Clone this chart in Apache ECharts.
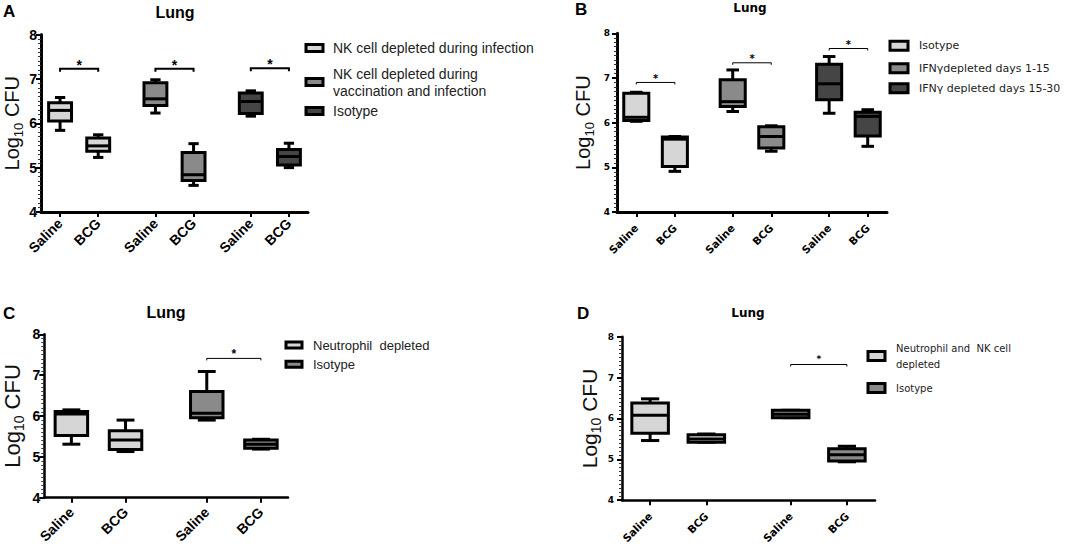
<!DOCTYPE html>
<html>
<head>
<meta charset="utf-8">
<script src="https://cdn.jsdelivr.net/npm/echarts/dist/echarts.min.js"></script>
<style>html,body{margin:0;padding:0;background:#fff}#c{width:1084px;height:546px}</style>
</head>
<body>
<div id="c"></div>
<script>
// ================= DATA =================
const yTicks = [4, 5, 6, 7, 8];
const yName = '{a|Log}{s|10}{a| CFU}';

// Panel A
const catsA = ['', 'Saline', '', 'BCG', '', '', 'Saline', '', 'BCG', '', '', 'Saline', '', 'BCG', ''];
const groupsA = ['NK cell depleted during infection', 'NK cell depleted during\nvaccination and infection', 'Isotype'];
// each box: [min, Q1, median, Q3, max]
const salineA = [[5.84, 6.05, 6.29, 6.46, 6.58], [6.23, 6.40, 6.55, 6.91, 6.98], [6.16, 6.22, 6.49, 6.68, 6.73]];
const bcgA = [[5.23, 5.37, 5.49, 5.67, 5.74], [4.60, 4.71, 4.84, 5.34, 5.54], [5.00, 5.06, 5.25, 5.41, 5.55]];
const sigA = [7.23, 7.23, 7.24];

// Panel B
const catsB = ['', 'Saline', '', 'BCG', '', '', 'Saline', '', 'BCG', '', '', 'Saline', '', 'BCG', ''];
const groupsB = ['Isotype', 'IFNγdepleted days 1-15', 'IFNγ depleted days 15-30'];
const salineB = [[6.03, 6.05, 6.12, 6.66, 6.68], [6.25, 6.36, 6.47, 6.96, 7.18], [6.21, 6.51, 6.87, 7.31, 7.48]];
const bcgB = [[4.91, 5.02, 5.63, 5.68, 5.69], [5.36, 5.43, 5.69, 5.91, 5.93], [5.47, 5.70, 6.14, 6.23, 6.29]];
const sigB = [6.90, 7.34, 7.66];

// Panel C
const catsC = ['', 'Saline', '', 'BCG', '', '', 'Saline', '', 'BCG', ''];
const groupsC = ['Neutrophil  depleted', 'Isotype'];
const salineC = [[5.31, 5.52, 6.05, 6.11, 6.15], [5.90, 5.96, 6.07, 6.60, 7.09]];
const bcgC = [[5.13, 5.18, 5.41, 5.64, 5.90], [5.19, 5.21, 5.31, 5.41, 5.43]];
const sigC = [null, 7.41];

// Panel D
const catsD = ['', 'Saline', '', 'BCG', '', '', 'Saline', '', 'BCG', ''];
const groupsD = ['Neutrophil and  NK cell\ndepleted', 'Isotype'];
const salineD = [[5.46, 5.64, 6.08, 6.38, 6.48], [6.02, 6.02, 6.10, 6.20, 6.20]];
const bcgD = [[5.42, 5.42, 5.50, 5.60, 5.62], [4.94, 4.96, 5.11, 5.26, 5.32]];
const sigD = [null, 7.32];

// ================= STYLE / LAYOUT =================
const LIGHT = '#d6d6d6', MID = '#8a8a8a', DARK = '#454545';
const ARIAL = 'Liberation Sans', DJ = 'DejaVu Sans';

const panels = [
  { cats: catsA, groups: groupsA, saline: salineA, bcg: bcgA, sig: sigA, fills: [LIGHT, MID, DARK],
    grid: { left: 41, top: 34.5, width: 267, height: 177.5 },
    ff: ARIAL, tickFs: 14, xFs: 14, xMargin: 9, yMargin: 4, nameFs: 20, nameGap: 16,
    boxRatio: 1.2, capRatio: 0.45, lineW: 3, axisW: 3,
    sigW: 2, sigTick: 3, starFs: 14, starGap: 4,
    legend: { left: 304.5, centers: [48, 82, 111], iw: 17, ih: 7, fs: 14, lh: 17, ff: ARIAL, tp: 5 } },
  { cats: catsB, groups: groupsB, saline: salineB, bcg: bcgB, sig: sigB, fills: [LIGHT, MID, DARK],
    grid: { left: 617, top: 33.3, width: 270, height: 178.7 },
    ff: DJ, tickFs: 9, xFs: 10.5, xMargin: 14, yMargin: 7, nameFs: 20, nameGap: 21,
    boxRatio: 1.3, capRatio: 0.5, lineW: 3, axisW: 3,
    sigW: 1, sigTick: 2, starFs: 10, starGap: 4,
    legend: { left: 888.5, centers: [45.7, 68.3, 88.3], iw: 18, ih: 9, fs: 11, lh: 14, ff: DJ, tp: 6 } },
  { cats: catsC, groups: groupsC, saline: salineC, bcg: bcgC, sig: sigC, fills: [LIGHT, MID],
    grid: { left: 43, top: 334.3, width: 245, height: 163.4 },
    ff: ARIAL, tickFs: 14, xFs: 14, xMargin: 12, yMargin: 4, nameFs: 22, nameGap: 18,
    boxRatio: 1.2, capRatio: 0.55, lineW: 3, axisW: 2.5,
    sigW: 1, sigTick: 2, starFs: 12, starGap: 4,
    legend: { left: 284.5, centers: [345, 364.3], iw: 16, ih: 6, fs: 13, lh: 16, ff: ARIAL, tp: 6 } },
  { cats: catsD, groups: groupsD, saline: salineD, bcg: bcgD, sig: sigD, fills: [LIGHT, MID],
    grid: { left: 622, top: 336.7, width: 253, height: 166.6 },
    ff: DJ, tickFs: 9, xFs: 10.5, xMargin: 14, yMargin: 8, nameFs: 21, nameGap: 19,
    boxRatio: 1.3, capRatio: 0.5, lineW: 3, axisW: 2.5,
    sigW: 1, sigTick: 2, starFs: 9, starGap: 5,
    legend: { left: 866.5, centers: [356, 388], iw: 17, ih: 9, fs: 10, lh: 16, ff: DJ, tp: 6 } }
];

const headers = [
  { t: 'A', x: 3, y: 11, fs: 17, ff: ARIAL, align: 'left' },
  { t: 'Lung', x: 175, y: 12, fs: 16, ff: ARIAL, align: 'center' },
  { t: 'B', x: 575, y: 9, fs: 17, ff: ARIAL, align: 'left' },
  { t: 'Lung', x: 750, y: 8, fs: 12, ff: DJ, align: 'center' },
  { t: 'C', x: 3, y: 313, fs: 17, ff: ARIAL, align: 'left' },
  { t: 'Lung', x: 166, y: 312, fs: 16, ff: ARIAL, align: 'center' },
  { t: 'D', x: 577, y: 313, fs: 17, ff: ARIAL, align: 'left' },
  { t: 'Lung', x: 748, y: 313, fs: 12, ff: DJ, align: 'center' }
];

// ================= BUILD =================
function nthIndex(cats, label, n) {
  let c = -1;
  for (let i = 0; i < cats.length; i++) {
    if (cats[i] === label) { c++; if (c === n) return i; }
  }
  return -1;
}

function boxRenderer(p) {
  return function (params, api) {
    const x = api.value(0);
    const c = v => api.coord([x, v]);
    const pMin = c(api.value(1)), pQ1 = c(api.value(2)), pMed = c(api.value(3)),
          pQ3 = c(api.value(4)), pMax = c(api.value(5));
    const band = api.size([1, 0])[0];
    const bw = band * p.boxRatio, cw = bw * p.capRatio;
    const cx = pMed[0];
    const st = { stroke: '#000', lineWidth: p.lineW };
    return {
      type: 'group',
      children: [
        { type: 'line', shape: { x1: cx, y1: pMax[1], x2: cx, y2: pQ3[1] }, style: st },
        { type: 'line', shape: { x1: cx, y1: pQ1[1], x2: cx, y2: pMin[1] }, style: st },
        { type: 'line', shape: { x1: cx - cw / 2, y1: pMax[1], x2: cx + cw / 2, y2: pMax[1] }, style: st },
        { type: 'line', shape: { x1: cx - cw / 2, y1: pMin[1], x2: cx + cw / 2, y2: pMin[1] }, style: st },
        { type: 'rect', shape: { x: cx - bw / 2, y: pQ3[1], width: bw, height: pQ1[1] - pQ3[1] },
          style: { fill: api.visual('color'), stroke: '#000', lineWidth: p.lineW } },
        { type: 'line', shape: { x1: cx - bw / 2, y1: pMed[1], x2: cx + bw / 2, y2: pMed[1] }, style: st }
      ]
    };
  };
}

function sigRenderer(p) {
  return function (params, api) {
    const a = api.coord([api.value(0), api.value(2)]);
    const b = api.coord([api.value(1), api.value(2)]);
    return {
      type: 'group',
      children: [
        { type: 'polyline', shape: { points: [[a[0], a[1] + p.sigTick], [a[0], a[1]], [b[0], b[1]], [b[0], b[1] + p.sigTick]] },
          style: { stroke: '#000', lineWidth: p.sigW, fill: 'none' } },
        { type: 'text', style: { text: '*', x: (a[0] + b[0]) / 2, y: a[1] - p.starGap, align: 'center', verticalAlign: 'middle',
          fontSize: p.starFs, fontWeight: 'bold', fontFamily: p.ff, fill: '#000' } }
      ]
    };
  };
}

const grids = [], xAxes = [], yAxes = [], series = [], legends = [];

panels.forEach((p, i) => {
  grids.push(Object.assign({ containLabel: false }, p.grid));
  xAxes.push({
    type: 'category', gridIndex: i, data: p.cats, boundaryGap: false,
    axisLine: { onZero: false, lineStyle: { color: '#000', width: p.axisW } },
    axisTick: { show: true, interval: (idx, v) => v !== '', length: 5, lineStyle: { color: '#000', width: 2 } },
    axisLabel: { interval: 0, rotate: 45, margin: p.xMargin, fontSize: p.xFs, fontWeight: 'bold', fontFamily: p.ff, color: '#000' },
    splitLine: { show: false }
  });
  yAxes.push({
    type: 'value', gridIndex: i, min: yTicks[0], max: yTicks[yTicks.length - 1], interval: yTicks[1] - yTicks[0],
    axisLine: { show: true, lineStyle: { color: '#000', width: p.axisW } },
    axisTick: { show: true, length: 5, lineStyle: { color: '#000', width: 2 } },
    minorTick: { show: true, splitNumber: 10, length: 3, lineStyle: { color: '#333', width: 1 } },
    splitLine: { show: false },
    axisLabel: { margin: p.yMargin, fontSize: p.tickFs, fontWeight: 'bold', fontFamily: p.ff, color: '#000' },
    name: yName, nameLocation: 'middle', nameGap: p.nameGap,
    nameTextStyle: {
      rich: {
        a: { fontSize: p.nameFs, fontFamily: ARIAL, color: '#111', lineHeight: p.nameFs * 1.3, verticalAlign: 'middle' },
        s: { fontSize: Math.round(p.nameFs * 0.65), fontFamily: ARIAL, color: '#111', lineHeight: Math.round(p.nameFs * 0.65), verticalAlign: 'bottom' }
      }
    }
  });

  p.groups.forEach((g, k) => {
    const si = nthIndex(p.cats, 'Saline', k), bi = nthIndex(p.cats, 'BCG', k);
    series.push({
      type: 'custom', name: g, xAxisIndex: i, yAxisIndex: i,
      itemStyle: { color: p.fills[k] },
      encode: { x: 0, y: [1, 2, 3, 4, 5] },
      data: [[si].concat(p.saline[k]), [bi].concat(p.bcg[k])],
      renderItem: boxRenderer(p),
      silent: true
    });
    const L = p.legend;
    const lines = g.split('\n').length;
    const h = Math.max(L.lh * lines, L.ih);
    legends.push({
      show: true, orient: 'vertical', left: L.left, top: L.centers[k] - h / 2, padding: 0, itemGap: 0,
      itemWidth: L.iw, itemHeight: L.ih, icon: 'rect', selectedMode: false,
      data: [{ name: g, itemStyle: { color: p.fills[k], borderColor: '#000', borderWidth: 3 } }],
      textStyle: { fontFamily: L.ff, fontSize: L.fs, lineHeight: L.lh, color: '#222', padding: [0, 0, 0, L.tp] }
    });
  });

  const sigData = [];
  p.sig.forEach((lvl, k) => {
    if (lvl == null) return;
    sigData.push([nthIndex(p.cats, 'Saline', k), nthIndex(p.cats, 'BCG', k), lvl]);
  });
  series.push({
    type: 'custom', xAxisIndex: i, yAxisIndex: i, silent: true,
    encode: { x: [0, 1], y: 2 },
    data: sigData, renderItem: sigRenderer(p)
  });
});

const graphics = headers.map(h => ({
  type: 'text', x: h.x, y: h.y, silent: true,
  style: { text: h.t, align: h.align, verticalAlign: 'middle', fontSize: h.fs, fontWeight: 'bold', fontFamily: h.ff, fill: '#000' }
}));

const chart = echarts.init(document.getElementById('c'), null, { renderer: 'svg' });
chart.setOption({
  animation: false,
  backgroundColor: '#fff',
  grid: grids, xAxis: xAxes, yAxis: yAxes, series: series, legend: legends, graphic: graphics
});
</script>
</body>
</html>
